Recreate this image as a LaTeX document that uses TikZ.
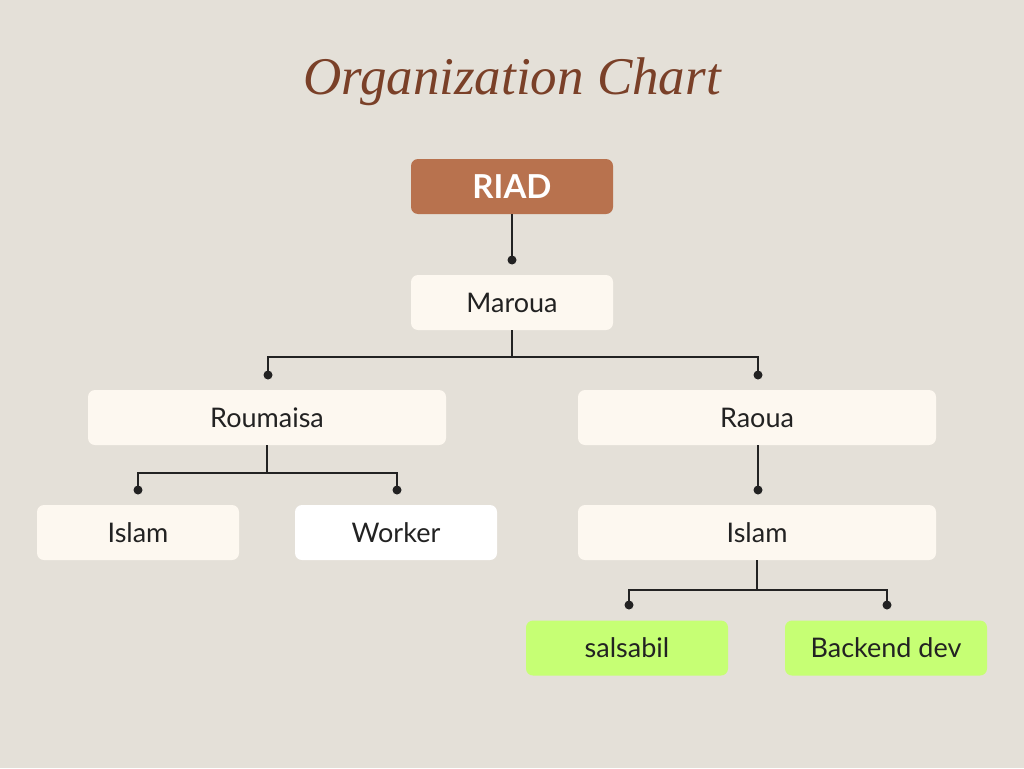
\documentclass[tikz,border=0pt]{standalone}
\usepackage{fontspec}
\setmainfont{Lato}
\newfontfamily\titlefont{Liberation Serif}
\definecolor{bgc}{HTML}{E4E0D8}
\definecolor{boxc}{HTML}{FDF8F0}
\definecolor{riadc}{HTML}{B8724E}
\definecolor{greenc}{HTML}{C6FF74}
\definecolor{titlec}{HTML}{7A4028}
\definecolor{inkc}{HTML}{222222}
\tikzset{
  orgbox/.style={rectangle, rounded corners=7pt, fill=boxc, draw=none, text=inkc,
    font=\fontsize{27}{30}\selectfont, inner sep=0pt},
  wide/.style={minimum width=358pt, minimum height=55pt},
  small/.style={minimum width=202pt, minimum height=55pt},
  link/.style={draw=inkc, line width=1.8pt},
  dot/.style={circle, fill=inkc, inner sep=0pt, minimum size=9pt}
}
\begin{document}
\begin{tikzpicture}[x=1pt,y=-1pt]
\fill[bgc] (0,0) rectangle (1024,768);
\useasboundingbox (0,0) rectangle (1024,768);
\node[text=titlec, font=\titlefont\itshape\fontsize{53}{56}\selectfont] (title) at (512,82) {Organization Chart};
\node[orgbox, small, fill=riadc, text=white, font=\bfseries\fontsize{33}{36}\selectfont] (riad) at (512,186.5) {RIAD};
\node[orgbox, small] (maroua) at (512,302.5) {Maroua};
\node[orgbox, wide] (roum) at (267,417.5) {Roumaisa};
\node[orgbox, wide] (raoua) at (757,417.5) {Raoua};
\node[orgbox, small] (islamL) at (138,532.5) {Islam};
\node[orgbox, small, fill=white] (worker) at (396,532.5) {Worker};
\node[orgbox, wide] (islamR) at (757,532.5) {Islam};
\node[orgbox, small, fill=greenc] (sals) at (627,648) {salsabil};
\node[orgbox, small, fill=greenc] (back) at (886,648) {Backend dev};
% dots
\node[dot] (d1) at (512,260) {};
\node[dot] (d2) at (268,375) {};
\node[dot] (d3) at (758,375) {};
\node[dot] (d4) at (138,490) {};
\node[dot] (d5) at (397,490) {};
\node[dot] (d6) at (758,490) {};
\node[dot] (d7) at (629,605) {};
\node[dot] (d8) at (887,605) {};
% connectors
\draw[link] (riad.south) -- (d1.center);
\draw[link] (maroua.south) -- ++(0,27) coordinate (m1);
\draw[link] (d2.center) |- (m1) -| (d3.center);
\draw[link] (roum.south) -- ++(0,28) coordinate (r1);
\draw[link] (d4.center) |- (r1) -| (d5.center);
\draw[link] (raoua.south -| d6) -- (d6.center);
\draw[link] (islamR.south) -- ++(0,30) coordinate (i1);
\draw[link] (d7.center) |- (i1) -| (d8.center);
\end{tikzpicture}
\end{document}
